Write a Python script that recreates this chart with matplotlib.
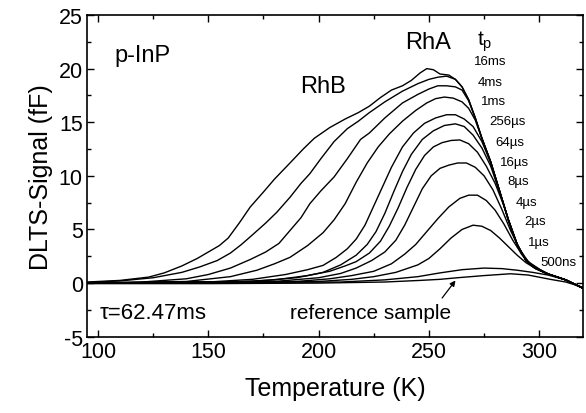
import numpy as np
import matplotlib
matplotlib.use("Agg")
import matplotlib.pyplot as plt
from matplotlib.ticker import MultipleLocator

plt.rcParams['font.family'] = ['Liberation Sans', 'DejaVu Sans']
plt.rcParams['mathtext.fontset'] = 'custom'
plt.rcParams['mathtext.rm'] = 'Liberation Sans'
plt.rcParams['mathtext.it'] = 'Liberation Sans'
plt.rcParams['axes.unicode_minus'] = False

# shared falling edge
env_T = [262, 265, 268, 271, 274, 278, 282, 286, 290, 294, 298, 304, 312, 320]
env_V = [19.0, 18.3, 17.1, 15.4, 13.5, 11.3, 8.6, 5.9, 3.6, 2.1, 1.4, 0.85, 0.3, -0.5]

labels = ["16ms", "4ms", "1ms", "256µs", "64µs", "16µs", "8µs", "4µs", "2µs", "1µs", "500ns"]

T_16ms = [95, 110, 123, 130, 138, 145, 150, 155, 159, 164, 169, 175, 180, 187, 193, 198, 205, 212, 218, 223, 228, 233, 238, 242, 246, 249, 252, 255, 259]
V_16ms = [0.1, 0.25, 0.56, 0.95, 1.6, 2.3, 2.9, 3.5, 4.2, 5.6, 7.1, 8.5, 9.7, 11.2, 12.5, 13.5, 14.5, 15.3, 15.9, 16.5, 17.3, 18.0, 18.4, 18.9, 19.6, 20.0, 19.9, 19.5, 19.4]
T_4ms = [95, 110, 125, 138, 146, 154, 160, 165, 170, 176, 181, 187, 192, 196, 201, 207, 213, 218, 223, 230, 238, 245, 250, 254, 258]
V_4ms = [0.05, 0.2, 0.5, 1.0, 1.5, 2.1, 2.8, 3.6, 4.5, 5.6, 6.6, 8.0, 9.3, 10.2, 11.6, 13.2, 14.4, 15.1, 15.9, 16.9, 17.9, 18.6, 19.0, 19.2, 19.3]
T_1ms = [95, 120, 140, 150, 160, 169, 176, 182, 187, 192, 196, 201, 207, 213, 219, 223, 230, 238, 245, 250, 254, 258, 262, 265, 268]
V_1ms = [0.0, 0.1, 0.4, 0.8, 1.4, 2.2, 2.9, 3.7, 4.9, 6.1, 7.4, 8.6, 9.9, 11.6, 13.4, 14.0, 15.4, 16.8, 17.6, 18.1, 18.4, 18.4, 18.3, 18.0, 17.0]
T_256us = [95, 140, 160, 172, 180, 187, 195, 202, 207, 212, 217, 222, 227, 232, 238, 244, 249, 253, 257, 261, 265, 268, 271]
V_256us = [0.0, 0.15, 0.6, 1.2, 1.8, 2.4, 3.5, 4.7, 5.9, 7.4, 9.4, 11.2, 12.7, 13.9, 15.1, 16.1, 16.8, 17.2, 17.35, 17.25, 16.9, 16.3, 15.2]
T_64us = [95, 150, 170, 185, 195, 202, 208, 213, 217, 221, 225, 229, 233, 238, 243, 248, 253, 258, 262, 266, 270, 274, 278]
V_64us = [0.0, 0.1, 0.35, 0.8, 1.25, 1.65, 2.4, 3.2, 4.1, 5.4, 7.2, 9.0, 10.8, 12.7, 14.0, 14.9, 15.4, 15.7, 15.7, 15.3, 14.6, 13.2, 11.2]
T_16us = [95, 160, 180, 195, 202, 210, 217, 222, 226, 230, 234, 238, 242, 247, 252, 257, 262, 266, 270, 274, 278, 282]
V_16us = [0.0, 0.1, 0.3, 0.7, 1.0, 1.7, 2.6, 3.6, 4.8, 6.5, 8.5, 10.4, 12.0, 13.4, 14.2, 14.7, 14.85, 14.6, 13.8, 12.6, 10.9, 8.5]
T_8us = [95, 170, 190, 205, 212, 217, 223, 228, 232, 236, 240, 244, 248, 252, 256, 260, 264, 268, 272, 276, 280, 284, 288, 292, 296, 300]
V_8us = [0.0, 0.15, 0.5, 1.1, 1.6, 2.0, 2.8, 3.9, 5.3, 7.0, 8.9, 10.6, 11.9, 12.7, 13.1, 13.3, 13.35, 13.0, 12.2, 10.9, 9.3, 7.2, 4.6, 2.7, 1.7, 1.2]
T_4us = [95, 180, 200, 210, 217, 224, 230, 235, 239, 243, 247, 251, 255, 259, 263, 267, 271, 275, 279, 283, 287, 291, 295, 300]
V_4us = [0.0, 0.15, 0.5, 0.9, 1.4, 2.1, 2.9, 4.0, 5.4, 7.1, 8.8, 10.0, 10.7, 11.0, 11.2, 11.2, 10.8, 10.0, 8.7, 6.9, 4.9, 3.2, 2.0, 1.3]
T_2us = [95, 190, 205, 215, 225, 233, 239, 244, 249, 254, 259, 264, 268, 272, 276, 280, 284, 288, 292, 296, 300]
V_2us = [0.0, 0.15, 0.4, 0.7, 1.1, 1.8, 2.7, 3.6, 4.8, 6.0, 7.1, 7.9, 8.2, 8.2, 7.7, 6.8, 5.5, 4.0, 2.7, 1.8, 1.3]
T_1us = [95, 200, 215, 225, 235, 245, 250, 255, 260, 265, 270, 274, 278, 282, 286, 290, 294, 298, 302]
V_1us = [0.0, 0.15, 0.35, 0.6, 1.0, 1.7, 2.3, 3.2, 4.2, 5.0, 5.4, 5.3, 4.9, 4.2, 3.4, 2.6, 1.9, 1.4, 1.0]
T_500ns = [95, 210, 230, 245, 255, 265, 275, 283, 290, 297, 304]
V_500ns = [0.0, 0.1, 0.3, 0.6, 0.95, 1.25, 1.4, 1.35, 1.2, 1.0, 0.75]

T_ref = [95, 150, 200, 230, 246, 255, 263, 275, 287, 295, 305, 312, 320]
V_ref = [-0.05, -0.05, 0.0, 0.1, 0.25, 0.35, 0.5, 0.7, 0.87, 0.75, 0.35, 0.1, -0.4]

curves = [(T_16ms, V_16ms), (T_4ms, V_4ms), (T_1ms, V_1ms), (T_256us, V_256us),
          (T_64us, V_64us), (T_16us, V_16us), (T_8us, V_8us), (T_4us, V_4us),
          (T_2us, V_2us), (T_1us, V_1us), (T_500ns, V_500ns)]

fig = plt.figure(figsize=(5.86, 4.14), dpi=100)
ax = fig.add_axes([0.1485, 0.1843, 0.847, 0.777])

for T, V in curves:
    Tl = list(T) + [t for t in env_T if t > T[-1]]
    Vl = list(V) + [v for t, v in zip(env_T, env_V) if t > T[-1]]
    ax.plot(Tl, Vl, color='black', lw=1.0)
ax.plot(T_ref, V_ref, color='black', lw=1.0)

ax.set_xlim(95, 320)
ax.set_ylim(-5, 25)
ax.xaxis.set_major_locator(MultipleLocator(50))
ax.xaxis.set_minor_locator(MultipleLocator(25))
ax.yaxis.set_major_locator(MultipleLocator(5))
ax.yaxis.set_minor_locator(MultipleLocator(2.5))
ax.tick_params(which='both', direction='in', top=True, right=True, width=1.0)
ax.tick_params(which='major', length=5, labelsize=15.5, pad=3)
ax.tick_params(which='minor', length=3)
for s in ax.spines.values():
    s.set_linewidth(1.2)

ax.set_xlabel("Temperature (K)", fontsize=18, labelpad=10)
ax.set_ylabel("DLTS-Signal (fF)", fontsize=18, labelpad=4)

ax.text(107.5, 21.3, "p-InP", fontsize=17, va='center', ha='left')
ax.text(100.5, -2.7, "τ=62.47ms", fontsize=16, va='center', ha='left')
ax.text(223.4, -2.7, "reference sample", fontsize=15, va='center', ha='center')
ax.text(191.5, 18.4, "RhB", fontsize=17, va='center', ha='left')
ax.text(239.3, 22.5, "RhA", fontsize=17, va='center', ha='left')
ax.text(272.0, 22.6, r"t$_{\rm p}$", fontsize=15, va='center', ha='left')

lab_T = [270.3, 271.9, 273.7, 277.2, 280.2, 282.2, 285.5, 289.3, 293.1, 295.1, 300.4]
lab_V = [20.7, 18.8, 17.0, 15.1, 13.2, 11.3, 9.5, 7.6, 5.8, 3.8, 2.0]
for lt, lv, lb in zip(lab_T, lab_V, labels):
    ax.text(lt, lv, lb, fontsize=9.5, va='center', ha='left')

ax.annotate("", xy=(262.8, 0.45), xytext=(255.2, -1.6),
            arrowprops=dict(arrowstyle='-|>', color='black', lw=0.9, mutation_scale=8))

fig.savefig("out.png", dpi=100)
